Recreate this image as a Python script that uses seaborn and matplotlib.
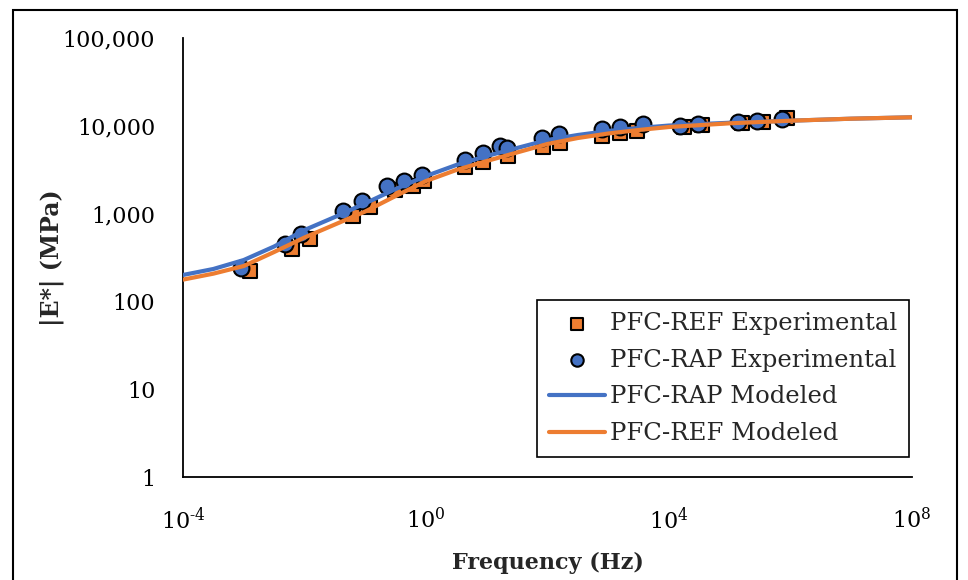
import numpy as np
import pandas as pd
import matplotlib
matplotlib.use("Agg")
import matplotlib.pyplot as plt
import seaborn as sns
from matplotlib.ticker import FuncFormatter, FixedLocator
from matplotlib.patches import Rectangle

# ---- data ----
ref_freq = [1.27e-3, 6.2e-3, 0.0123, 0.0628, 0.12, 0.309, 0.61, 0.93, 4.38, 8.67, 22.4,
            84, 161, 789, 1561, 2970, 17660, 34900, 159000, 352000, 875000]
ref_mod = [222, 395, 514, 939, 1189, 1857, 2062, 2351, 3394, 3871, 4530,
           5737, 6370, 7650, 8280, 8730, 9690, 10210, 10770, 11050, 12270]

rap_freq = [9.0e-4, 4.8e-3, 8.7e-3, 0.043, 0.088, 0.228, 0.434, 0.86, 4.38, 8.67, 16.5, 21.5,
            81, 155, 789, 1561, 3733, 15170, 30000, 136800, 281000, 724000]
rap_mod = [240, 451, 586, 1071, 1393, 2062, 2351, 2754, 4077, 4898, 5888, 5588,
           7263, 8070, 9200, 9690, 10490, 9950, 10490, 11050, 11350, 11950]

model_freq = [1e-4, 3.16e-4, 1e-3, 3.16e-3, 1e-2, 3.16e-2, 1e-1, 3.16e-1, 1e0, 3.16e0,
              1e1, 3.16e1, 1e2, 3.16e2, 1e3, 3.16e3, 1e4, 1e5, 1e6, 1e7, 1e8]
rap_model = [200, 234, 296, 422, 650, 915, 1310, 1905, 2680, 3580,
             4530, 5590, 6890, 7860, 8730, 9440, 10070, 10840, 11430, 12050, 12500]
ref_model = [177, 207, 253, 365, 534, 751, 1057, 1586, 2350, 3140,
             3970, 4970, 6210, 7260, 8170, 8960, 9690, 10670, 11430, 12050, 12500]

x_ticks = [1e-4, 1e0, 1e4, 1e8]
y_ticks = [1, 10, 100, 1000, 10000, 100000]

ORANGE = "#ED7D31"
BLUE = "#4472C4"

sns.set_theme(style="white")
plt.rcParams["font.family"] = ["DejaVu Serif"]
plt.rcParams["mathtext.fontset"] = "custom"
plt.rcParams["mathtext.rm"] = "DejaVu Serif"
plt.rcParams["mathtext.it"] = "DejaVu Serif:italic"
plt.rcParams["mathtext.bf"] = "DejaVu Serif:bold"

fig = plt.figure(figsize=(9.68, 5.8), dpi=100)
ax = fig.add_axes([183 / 968, 103 / 580, (912 - 183) / 968, (477 - 38) / 580])

df_ref = pd.DataFrame({"f": ref_freq, "E": ref_mod})
df_rap = pd.DataFrame({"f": rap_freq, "E": rap_mod})
df_mrap = pd.DataFrame({"f": model_freq, "E": rap_model})
df_mref = pd.DataFrame({"f": model_freq, "E": ref_model})

sns.scatterplot(data=df_ref, x="f", y="E", marker="s", s=110, color=ORANGE,
                edgecolor="black", linewidth=1.5, ax=ax, label="PFC-REF Experimental", zorder=3)
sns.scatterplot(data=df_rap, x="f", y="E", marker="o", s=130, color=BLUE,
                edgecolor="black", linewidth=1.5, ax=ax, label="PFC-RAP Experimental", zorder=4)
sns.lineplot(data=df_mrap, x="f", y="E", color=BLUE, linewidth=3, ax=ax,
             label="PFC-RAP Modeled", zorder=5)
sns.lineplot(data=df_mref, x="f", y="E", color=ORANGE, linewidth=3, ax=ax,
             label="PFC-REF Modeled", zorder=6)

ax.set_xscale("log")
ax.set_yscale("log")
ax.set_xlim(1e-4, 1e8)
ax.set_ylim(1, 1e5)
ax.xaxis.set_major_locator(FixedLocator(x_ticks))
ax.yaxis.set_major_locator(FixedLocator(y_ticks))
ax.xaxis.set_minor_locator(FixedLocator([]))
ax.yaxis.set_minor_locator(FixedLocator([]))


def xfmt(v, p):
    e = int(round(np.log10(v)))
    s = str(e).replace("-", "\u2010")
    return r"$\mathregular{10^{%s}}$" % s


ax.xaxis.set_major_formatter(FuncFormatter(xfmt))
ax.yaxis.set_major_formatter(FuncFormatter(lambda v, p: f"{int(round(v)):,}"))

ax.tick_params(axis="both", which="major", direction="in", length=8, width=1.3,
               color="black", labelsize=16, labelcolor="black")
ax.tick_params(axis="x", pad=22)
ax.tick_params(axis="y", pad=20)

for side in ["top", "right"]:
    ax.spines[side].set_visible(False)
for side in ["left", "bottom"]:
    ax.spines[side].set_color("black")
    ax.spines[side].set_linewidth(1.3)

ax.set_xlabel("Frequency (Hz)", fontsize=16, fontweight="bold", labelpad=13)
ax.set_ylabel("|E*| (MPa)", fontsize=17, fontweight="bold", labelpad=-1)
ax.grid(False)

leg = ax.legend(loc="lower right", bbox_to_anchor=(0.996, 0.045), fontsize=17.5,
                frameon=True, fancybox=False, edgecolor="black", framealpha=1,
                handlelength=2.3, handletextpad=0.2, borderpad=0.5, labelspacing=0.56,
                borderaxespad=0)
leg.get_frame().set_linewidth(1.2)
for h in leg.legend_handles[:2]:
    try:
        h.set_sizes([80])
    except Exception:
        pass

fig.patches.append(Rectangle((13 / 968, -0.05), (957 - 13) / 968, (580 - 10) / 580 + 0.05,
                             transform=fig.transFigure, fill=False, edgecolor="black",
                             linewidth=1.5, zorder=10))

fig.savefig("out.png", dpi=100)
